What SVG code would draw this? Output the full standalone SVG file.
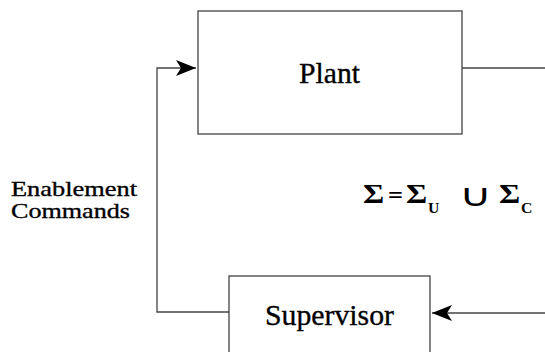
<svg xmlns="http://www.w3.org/2000/svg" width="545" height="352" viewBox="0 0 545 352">
  <style>
    .box { fill: #ffffff; stroke: #444444; stroke-width: 1.3; }
    .wire { fill: none; stroke: #444444; stroke-width: 1.3; }
    .lbl { font-family: "Liberation Serif", "Times New Roman", serif; fill: #000000; stroke: #000000; stroke-width: 0.35; }
    .sym { font-family: "Liberation Serif", "Times New Roman", serif; fill: #000000; }
  </style>
  <defs>
    <marker id="arrow" viewBox="0 0 20 16" refX="20" refY="8" markerWidth="20" markerHeight="16" markerUnits="userSpaceOnUse" orient="auto">
      <path d="M0,0 L20,8 L0,16 L5,8 Z" fill="#000000"/>
    </marker>
  </defs>

  <rect width="545" height="352" fill="#ffffff"/>

  <!-- connectors -->
  <g id="connectors">
    <!-- supervisor output back up to the plant input -->
    <polyline class="wire" points="229,312 157,312 157,68 196,68" marker-end="url(#arrow)"/>
    <!-- plant output leaving on the right -->
    <line class="wire" x1="462" y1="68" x2="545" y2="68"/>
    <!-- observed events feeding the supervisor -->
    <line class="wire" x1="545" y1="313" x2="432" y2="313" marker-end="url(#arrow)"/>
  </g>

  <g id="plant">
    <rect class="box" x="198" y="11" width="264" height="123"/>
    <text class="lbl" x="299" y="83" font-size="30" textLength="61" lengthAdjust="spacingAndGlyphs">Plant</text>
  </g>

  <g id="supervisor">
    <rect class="box" x="229" y="276" width="201" height="90"/>
    <text class="lbl" x="265" y="325" font-size="30" textLength="129" lengthAdjust="spacingAndGlyphs">Supervisor</text>
  </g>

  <g id="enablement-label">
    <text class="lbl" x="11" y="196" font-size="22" textLength="126" lengthAdjust="spacingAndGlyphs">Enablement</text>
    <text class="lbl" x="11" y="218" font-size="22" textLength="119" lengthAdjust="spacingAndGlyphs">Commands</text>
  </g>

  <!-- event alphabet: uncontrollable and controllable parts -->
  <g id="alphabet" class="sym">
    <text transform="translate(363,203) scale(1.2,1)" font-size="27" font-weight="bold">Σ</text>
    <text transform="translate(388,203) scale(1.1,1)" font-size="24" font-weight="bold">=</text>
    <text transform="translate(406,203) scale(1.2,1)" font-size="27" font-weight="bold">Σ</text>
    <text transform="translate(428,213) scale(1.05,1)" font-size="15" font-weight="bold">U</text>
    <text transform="translate(459,206) scale(1.45,1)" font-size="31">∪</text>
    <text transform="translate(499,203) scale(1.2,1)" font-size="27" font-weight="bold">Σ</text>
    <text transform="translate(521,213) scale(1.05,1)" font-size="15" font-weight="bold">C</text>
  </g>
</svg>
